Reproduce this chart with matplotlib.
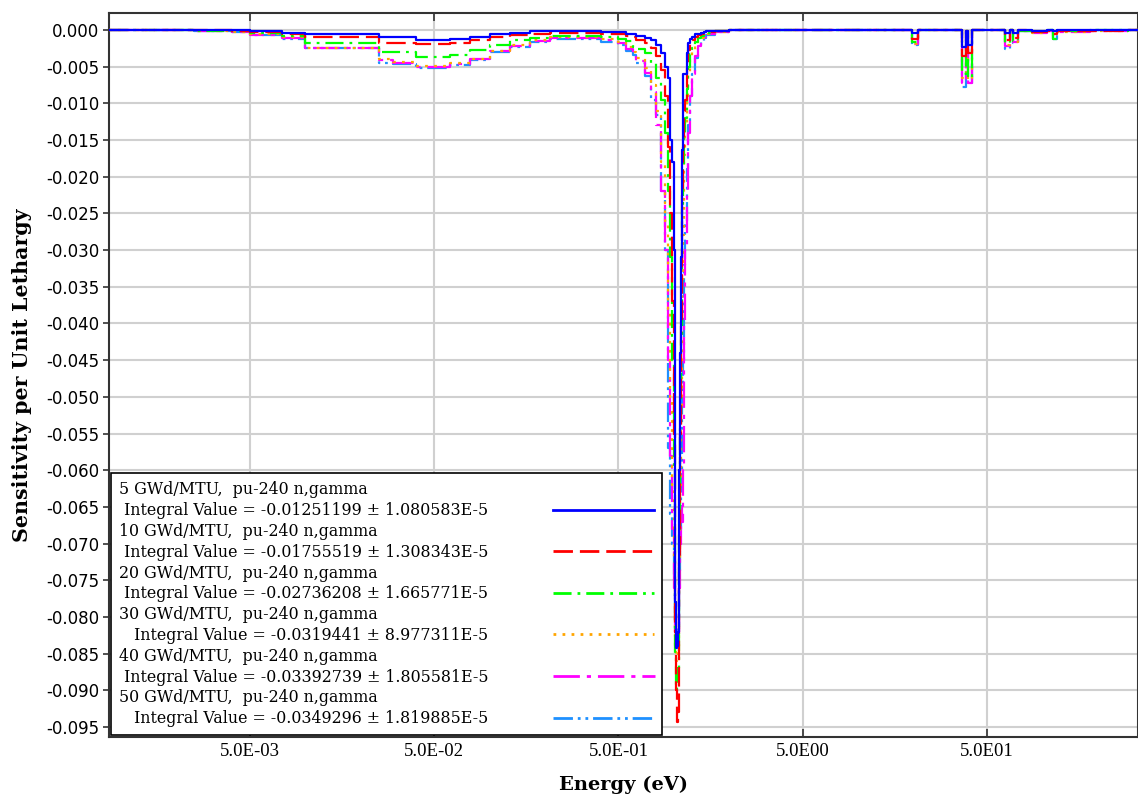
import numpy as np
import matplotlib
matplotlib.use("Agg")
import matplotlib.pyplot as plt
from matplotlib.lines import Line2D
from matplotlib.ticker import FixedLocator, FuncFormatter, MultipleLocator

plt.rcParams['lines.scale_dashes'] = False

# group boundaries (eV), shared by all burnup steps
EDGES = [8.6e-4, 2.5e-3, 4.0e-3, 5.0e-3, 7.5e-3, 1.0e-2, 2.5e-2, 3.0e-2, 4.0e-2, 6.1e-2,
         7.8e-2, 0.10, 0.129, 0.166, 0.2125, 0.29, 0.4, 0.5, 0.55, 0.6,
         0.625, 0.7, 0.75, 0.8, 0.85, 0.9, 0.925, 0.95, 0.975, 1.0,
         1.01, 1.02, 1.03, 1.04, 1.05, 1.06, 1.07, 1.08, 1.09, 1.1,
         1.11, 1.12, 1.13, 1.14, 1.15, 1.175, 1.2, 1.225, 1.25, 1.3,
         1.35, 1.4, 1.45, 1.5, 1.68, 2.0, 19.5, 21.0, 36.6, 38.5,
         39.2, 41.7, 62.6, 66.7, 69.2, 73.6, 87.7, 106, 114, 120,
         181, 273, 291, 330]

# sensitivity per unit lethargy for each group
sens_5 = [0, 0, 0, -0.00015, -0.0004, -0.0006, -0.001, -0.001, -0.0014, -0.0012,
          -0.001, -0.0006, -0.00035, -0.0002, -0.00015, -0.0002, -0.0003, -0.0003, -0.0005, -0.0006,
          -0.0008, -0.0011, -0.0014, -0.002, -0.0031, -0.005, -0.0065, -0.015, -0.018, -0.030,
          -0.060, -0.078, -0.0842, -0.084, -0.082, -0.075, -0.060, -0.044, -0.031, -0.0163,
          -0.0163, -0.006, -0.006, -0.006, -0.006, -0.0031, -0.0018, -0.0012, -0.0009, -0.0006,
          -0.0005, -0.0004, -0.0003, -0.0002, -0.0001, 0, -0.0004, 0, -0.0023, -0.0001,
          -0.002, 0, -0.0004, 0, -0.0004, 0, -0.0001, 0, -0.0002, 0,
          0, 0, 0]
sens_10 = [0, 0, -0.0001, -0.0003, -0.00055, -0.001, -0.0018, -0.0018, -0.0019, -0.0018,
           -0.0014, -0.001, -0.0007, -0.00055, -0.0004, -0.0004, -0.00055, -0.0006, -0.0008, -0.001,
           -0.0013, -0.0018, -0.0024, -0.0035, -0.0055, -0.009, -0.016, -0.025, -0.037, -0.055,
           -0.070, -0.082, -0.090, -0.0943, -0.093, -0.088, -0.072, -0.055, -0.040, -0.030,
           -0.022, -0.016, -0.013, -0.011, -0.0095, -0.005, -0.0027, -0.0018, -0.0013, -0.0009,
           -0.0007, -0.0005, -0.0004, -0.0003, -0.0002, 0, -0.0012, 0, -0.0035, -0.0001,
           -0.0032, 0, -0.0013, 0, -0.0011, 0, -0.0003, -0.0001, -0.0005, -0.0002,
           -0.0001, 0, 0]
sens_20 = [0, -0.0001, -0.0002, -0.0004, -0.0008, -0.0018, -0.003, -0.003, -0.0037, -0.0034,
           -0.0027, -0.002, -0.0014, -0.0011, -0.0008, -0.00075, -0.0009, -0.0012, -0.0015, -0.0023,
           -0.0026, -0.0032, -0.0045, -0.0065, -0.0095, -0.014, -0.022, -0.031, -0.045, -0.060,
           -0.074, -0.085, -0.090, -0.089, -0.087, -0.080, -0.068, -0.054, -0.042, -0.032,
           -0.024, -0.019, -0.016, -0.014, -0.012, -0.008, -0.005, -0.0033, -0.0024, -0.0016,
           -0.0011, -0.0008, -0.0006, -0.0004, -0.0002, 0, -0.0017, 0, -0.006, -0.0001,
           -0.0065, 0, -0.0018, 0, -0.0015, -0.0001, -0.0003, 0, -0.0012, -0.0002,
           0, -0.0001, 0]
sens_30 = [0, -0.0001, -0.0003, -0.0006, -0.001, -0.0024, -0.004, -0.0044, -0.0049, -0.0045,
           -0.0039, -0.0028, -0.0021, -0.0014, -0.001, -0.001, -0.0012, -0.0016, -0.0023, -0.003,
           -0.0038, -0.0052, -0.0075, -0.011, -0.018, -0.026, -0.038, -0.050, -0.062, -0.072,
           -0.079, -0.084, -0.086, -0.0855, -0.084, -0.080, -0.072, -0.062, -0.052, -0.042,
           -0.034, -0.028, -0.022, -0.017, -0.013, -0.009, -0.006, -0.004, -0.003, -0.0021,
           -0.0015, -0.0011, -0.0008, -0.0005, -0.0003, 0, -0.0019, 0, -0.0065, -0.0001,
           -0.0068, 0, -0.002, 0, -0.0016, -0.0002, -0.0004, -0.0001, -0.0008, -0.0003,
           -0.0001, -0.0002, 0]
sens_40 = [0, -0.0001, -0.0003, -0.00064, -0.0011, -0.0024, -0.0041, -0.0045, -0.005, -0.0046,
           -0.004, -0.0029, -0.0022, -0.0015, -0.0011, -0.0011, -0.0013, -0.0018, -0.0026, -0.0032,
           -0.0042, -0.0058, -0.0085, -0.013, -0.022, -0.030, -0.045, -0.058, -0.068, -0.076,
           -0.080, -0.083, -0.0835, -0.083, -0.082, -0.080, -0.076, -0.070, -0.065, -0.067,
           -0.067, -0.060, -0.050, -0.040, -0.030, -0.022, -0.014, -0.009, -0.006, -0.0035,
           -0.0022, -0.0015, -0.001, -0.0006, -0.0003, 0, -0.0019, 0, -0.0072, -0.0001,
           -0.0072, 0, -0.0022, 0, -0.0017, -0.0002, -0.0004, -0.0001, -0.0006, -0.0003,
           -0.0002, -0.0002, 0]
sens_50 = [0, -0.0001, -0.0003, -0.0007, -0.0012, -0.0025, -0.0045, -0.0046, -0.0052, -0.0047,
           -0.0041, -0.003, -0.0023, -0.0016, -0.0012, -0.0012, -0.0016, -0.002, -0.0028, -0.0034,
           -0.0045, -0.0062, -0.0095, -0.0116, -0.022, -0.030, -0.057, -0.066, -0.070, -0.075,
           -0.079, -0.082, -0.083, -0.0825, -0.081, -0.078, -0.074, -0.068, -0.060, -0.055,
           -0.050, -0.045, -0.038, -0.032, -0.026, -0.019, -0.013, -0.009, -0.006, -0.0038,
           -0.0025, -0.0016, -0.0011, -0.0007, -0.0003, 0, -0.002, 0, -0.0078, -0.0001,
           -0.0074, 0, -0.0026, 0, -0.0018, -0.0002, -0.0003, 0, -0.0012, -0.0002,
           0, 0, 0]

burnups = [5, 10, 20, 30, 40, 50]
integrals = ["-0.01251199", "-0.01755519", "-0.02736208", "-0.0319441", "-0.03392739", "-0.0349296"]
uncerts = ["1.080583E-5", "1.308343E-5", "1.665771E-5", "8.977311E-5", "1.805581E-5", "1.819885E-5"]
indents = [" ", " ", " ", "   ", " ", "   "]

x_ticks = [5e-3, 5e-2, 5e-1, 5.0, 50.0]
x_ticklabels = ["5.0E-03", "5.0E-02", "5.0E-01", "5.0E00", "5.0E01"]

series = [sens_5, sens_10, sens_20, sens_30, sens_40, sens_50]
colors = ['#0000ff', '#ff0000', '#00ff00', '#ffa500', '#ff00ff', '#1e90ff']
dashes = [None, (14, 5), (13, 4.3, 2, 4.3), (2, 4.5), (19, 5, 3, 5), (14, 3.5, 2, 3.5, 2, 3.5)]

fig = plt.figure(figsize=(11.38, 7.96), dpi=100)
ax = fig.add_axes([109 / 1138, 1 - 737 / 796, 1029 / 1138, 724 / 796])

edges = np.array(EDGES)
handles, labels = [], []
for i, vals in enumerate(series):
    y = np.append(vals, vals[-1])
    line, = ax.plot(edges, y, drawstyle='steps-post', color=colors[i], lw=1.6, zorder=10 - i)
    if dashes[i] is not None:
        line.set_dashes(dashes[i])
    # two legend rows per case: title row without a line, then the integral row with it
    handles.append(Line2D([], [], linestyle='none'))
    labels.append(f"{burnups[i]} GWd/MTU,  pu-240 n,gamma")
    handles.append(line)
    labels.append(f"{indents[i]}Integral Value = {integrals[i]} \u00b1 {uncerts[i]}")

ax.set_xscale('log')
ax.set_xlim(EDGES[0], EDGES[-1])
ax.set_ylim(-0.09636, 0.00232)

ax.xaxis.set_major_locator(FixedLocator(x_ticks))
ax.xaxis.set_major_formatter(FuncFormatter(lambda v, p: x_ticklabels[x_ticks.index(v)] if v in x_ticks else ""))
ax.xaxis.set_minor_locator(FixedLocator([]))
ax.yaxis.set_major_locator(MultipleLocator(0.005))
ax.yaxis.set_major_formatter(FuncFormatter(lambda v, p: f"{round(v, 3) + 0.0:.3f}"))

ax.grid(True, which='major', color='#d0d0d0', lw=1.5)
ax.set_axisbelow(True)
ax.tick_params(axis='x', direction='in', length=6, top=True, width=1.2, colors='#333333',
               labelcolor='black', pad=4)
ax.tick_params(axis='y', direction='out', length=4, width=1.2, colors='#333333',
               labelcolor='black', pad=3)
for lab in ax.get_xticklabels():
    lab.set_fontfamily('Liberation Serif')
    lab.set_fontsize(13.5)
for lab in ax.get_yticklabels():
    lab.set_fontfamily('DejaVu Sans')
    lab.set_fontsize(12)
for s in ax.spines.values():
    s.set_color('#333333')
    s.set_linewidth(1.5)

ax.set_xlabel("Energy (eV)", fontfamily='DejaVu Serif', fontweight='bold', fontsize=14, labelpad=12)
ax.set_ylabel("Sensitivity per Unit Lethargy", fontfamily='DejaVu Serif', fontweight='bold',
              fontsize=14.8, labelpad=10)

leg = ax.legend(handles, labels, loc='lower left', bbox_to_anchor=(0.0, 0.0), borderaxespad=0.12,
                markerfirst=False, handlelength=6.4, handletextpad=4.1, labelspacing=0.24,
                fancybox=False, framealpha=1.0, edgecolor='black', borderpad=0.5,
                prop={'family': 'DejaVu Serif', 'size': 11.4})
leg.get_frame().set_linewidth(1.2)
for h in leg.legend_handles:
    h.set_linewidth(2.0)
# keep label text flush left, with the lines after it
for col in leg._legend_handle_box.get_children():
    col.align = 'left'

fig.savefig("out.png", dpi=100)
